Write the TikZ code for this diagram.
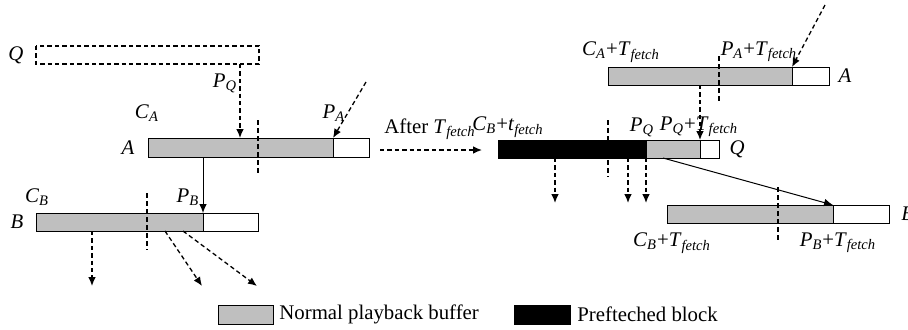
\documentclass[tikz,border=0pt]{standalone}
\usepackage{fontspec}
\setmainfont{Liberation Serif}
\usetikzlibrary{arrows.meta}
\newcommand{\vsub}[2]{\textit{#1}\textsubscript{\textit{#2}}}

\begin{document}
\begin{tikzpicture}[x=0.5pt,y=-0.5pt,
  font=\fontsize{10.4}{12}\selectfont,
  buf/.style={draw=black,line width=0.5pt,fill=black!25},
  free/.style={draw=black,line width=0.5pt,fill=white},
  pre/.style={draw=black,line width=0.5pt,fill=black},
  cut/.style={line width=0.9pt,dash pattern=on 2.5pt off 1.5pt},
  fetch/.style={dash pattern=on 2.2pt off 1.5pt,line width=0.65pt,-{Latex[length=4.5pt,width=3.8pt]}},
  move/.style={line width=0.5pt,-{Latex[length=4.5pt,width=3.8pt]}},
  lbl/.style={inner sep=0pt}]
\useasboundingbox (0,0) rectangle (908,329);

% before the fetch
\draw[dash pattern=on 2.2pt off 1.5pt,line width=0.75pt] (36,46) rectangle (259,64);
\draw[buf] (148,138) rectangle (333,157);
\draw[free] (333,138) rectangle (369,157);
\draw[buf] (36,213) rectangle (203,231);
\draw[free] (203,213) rectangle (258,231);
\draw[cut] (258,120) -- (258,176);
\draw[cut] (147,193) -- (147,250);

\node[lbl] (q1) at (16,55) {\textit{Q}};
\node[lbl] (a1) at (128,148) {\textit{A}};
\node[lbl] (b1) at (17,222) {\textit{B}};
\node[lbl] (ca) at (147,113) {\vsub{C}{A}};
\node[lbl] (pa) at (334,113) {\vsub{P}{A}};
\node[lbl] (pq) at (225,83) {\vsub{P}{Q}};
\node[lbl] (cb) at (37,197) {\vsub{C}{B}};
\node[lbl] (pb) at (188,197) {\vsub{P}{B}};

\coordinate (qout) at (240,64);
\coordinate (ain) at (240,138);
\coordinate (asrc) at (366,82);
\coordinate (apa) at (333,138);
\coordinate (aout) at (203,157);
\coordinate (bpb) at (203,213);
\coordinate (bo1) at (92,231);
\coordinate (bo2) at (165,231);
\coordinate (bo3) at (183,231);
\coordinate (bd1) at (92,286);
\coordinate (bd2) at (202,286);
\coordinate (bd3) at (257,286);
\draw[fetch] (qout) -- (ain);
\draw[fetch] (asrc) -- (apa);
\draw[move] (aout) -- (bpb);
\draw[fetch] (bo1) -- (bd1);
\draw[fetch] (bo2) -- (bd2);
\draw[fetch] (bo3) -- (bd3);

% the step between
\coordinate (sfrom) at (380,150);
\coordinate (sto) at (482,150);
\draw[fetch] (sfrom) -- (sto);
\node[lbl,anchor=south west] (after) at (384,140) {After \vsub{T}{fetch}};

% after the fetch
\draw[buf] (608,67) rectangle (792,85);
\draw[free] (792,67) rectangle (829,85);
\draw[pre] (498,140) rectangle (646,158);
\draw[buf] (646,140) rectangle (700,158);
\draw[free] (700,140) rectangle (719,158);
\draw[buf] (667,205) rectangle (833,223);
\draw[free] (833,205) rectangle (889,223);
\draw[cut] (719,56) -- (719,103);
\draw[cut] (608,120) -- (608,177);
\draw[cut] (778,187) -- (778,243);

\node[lbl] (a2) at (845,76) {\textit{A}};
\node[lbl] (q2) at (737,149) {\textit{Q}};
\node[lbl,anchor=west] (b2) at (901,214) {\textit{B}};
\node[lbl] (cat) at (621,52) {\vsub{C}{A}+\vsub{T}{fetch}};
\node[lbl] (pat) at (759,52) {\vsub{P}{A}+\vsub{T}{fetch}};
\node[lbl] (cbt) at (508,127) {\vsub{C}{B}+\vsub{t}{fetch}};
\node[lbl] (pq2) at (642,127) {\vsub{P}{Q}};
\node[lbl] (pqt) at (699,127) {\vsub{P}{Q}+\vsub{T}{fetch}};
\node[lbl] (cbt2) at (672,243) {\vsub{C}{B}+\vsub{T}{fetch}};
\node[lbl] (pbt) at (838,243) {\vsub{P}{B}+\vsub{T}{fetch}};

\coordinate (a2src) at (825,5);
\coordinate (a2pa) at (792,67);
\coordinate (a2out) at (700,85);
\coordinate (q2in) at (700,140);
\coordinate (q2out) at (663,158);
\coordinate (b2pb) at (833,205);
\coordinate (qo1) at (555,158);
\coordinate (qo2) at (628,158);
\coordinate (qo3) at (646,158);
\coordinate (qd1) at (555,203);
\coordinate (qd2) at (628,203);
\coordinate (qd3) at (646,203);
\draw[fetch] (a2src) -- (a2pa);
\draw[fetch] (a2out) -- (q2in);
\draw[move] (q2out) -- (b2pb);
\draw[fetch] (qo1) -- (qd1);
\draw[fetch] (qo2) -- (qd2);
\draw[fetch] (qo3) -- (qd3);

% legend
\draw[buf] (218,305) rectangle (273,324);
\node[lbl,anchor=west] (lnormal) at (279,314) {Normal playback buffer};
\draw[pre] (514,305) rectangle (570,324);
\node[lbl,anchor=west] (lpre) at (577,314) {Prefteched block};
\end{tikzpicture}
\end{document}
